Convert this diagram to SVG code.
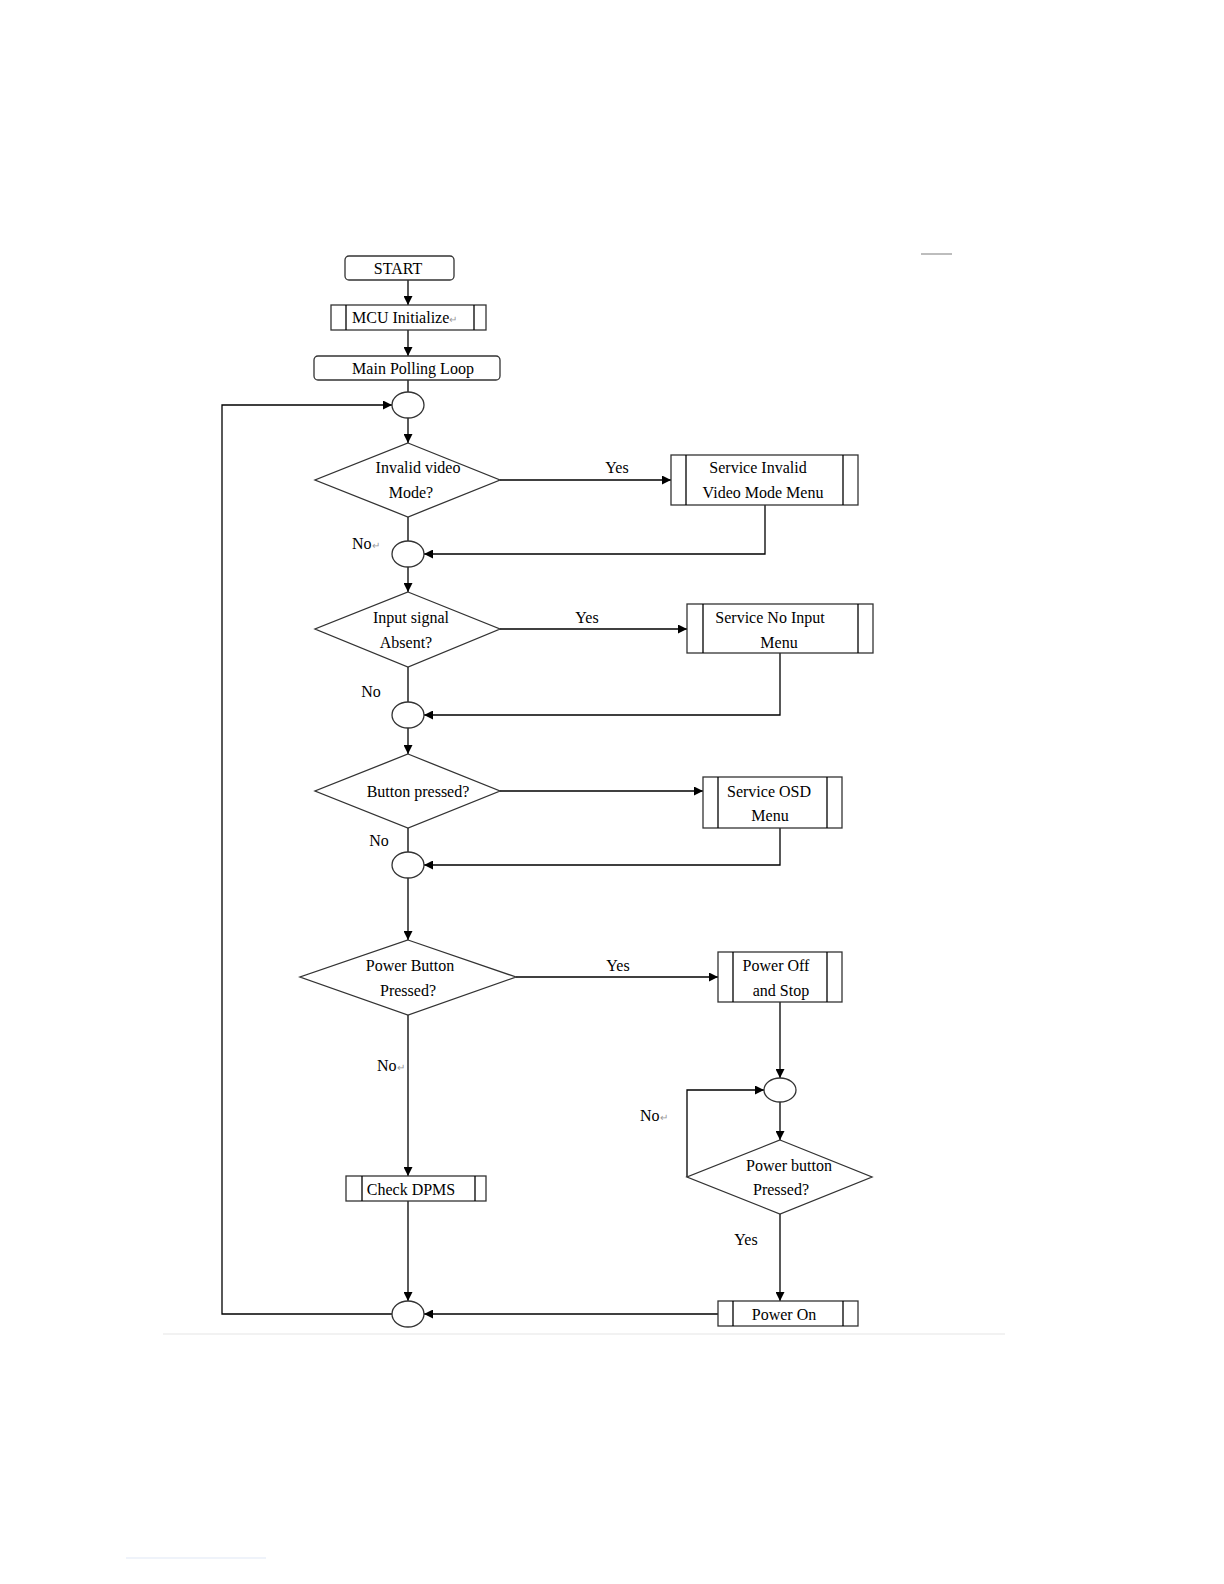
<svg xmlns="http://www.w3.org/2000/svg" width="1224" height="1584" viewBox="0 0 1224 1584">
<defs>
<marker id="ah" viewBox="0 0 10 10" refX="10" refY="5" markerWidth="9" markerHeight="9" markerUnits="userSpaceOnUse" orient="auto">
<path d="M0,0 L10,5 L0,10 z" fill="#000"/>
</marker>
<style>
.s{fill:#fff;stroke:#333;stroke-width:1.3}
.l{fill:none;stroke:#000;stroke-width:1.3}
.c{fill:none;stroke:#000;stroke-width:1.3;marker-end:url(#ah)}
text{font-family:"Liberation Serif","Times New Roman",serif;font-size:16px;fill:#000}
.m{text-anchor:middle}
.g{fill:#999}
</style>
</defs>
<rect width="1224" height="1584" fill="#fff"/>
<line x1="921" y1="254" x2="952" y2="254" stroke="#999" stroke-width="1.3"/>
<line x1="163" y1="1334" x2="1005" y2="1334" stroke="#eee" stroke-width="1.5"/>
<line x1="126" y1="1558" x2="266" y2="1558" stroke="#dfe8f5" stroke-width="1.2"/>

<g id="connectors">
<line class="c" x1="408" y1="280" x2="408" y2="305"/>
<line class="c" x1="408" y1="330" x2="408" y2="356"/>
<line class="l" x1="408" y1="380" x2="408" y2="392"/>
<line class="c" x1="408" y1="418" x2="408" y2="443"/>
<line class="c" x1="500" y1="480" x2="671" y2="480"/>
<polyline class="c" points="765,505 765,554 424,554"/>
<line class="l" x1="408" y1="517" x2="408" y2="541"/>
<line class="c" x1="408" y1="567" x2="408" y2="592"/>
<line class="c" x1="500" y1="629" x2="687" y2="629"/>
<polyline class="c" points="780,653 780,715 424,715"/>
<line class="l" x1="408" y1="667" x2="408" y2="702"/>
<line class="c" x1="408" y1="728" x2="408" y2="754"/>
<line class="c" x1="500" y1="791" x2="703" y2="791"/>
<polyline class="c" points="780,828 780,865 424,865"/>
<line class="l" x1="408" y1="828" x2="408" y2="852"/>
<line class="c" x1="408" y1="878" x2="408" y2="940"/>
<line class="c" x1="516" y1="977" x2="718" y2="977"/>
<line class="c" x1="408" y1="1015" x2="408" y2="1176"/>
<line class="c" x1="408" y1="1201" x2="408" y2="1301"/>
<line class="c" x1="780" y1="1002" x2="780" y2="1078"/>
<line class="c" x1="780" y1="1102" x2="780" y2="1140"/>
<polyline class="c" points="687,1177 687,1090 764,1090"/>
<line class="c" x1="780" y1="1214" x2="780" y2="1301"/>
<line class="c" x1="718" y1="1314" x2="424" y2="1314"/>
<polyline class="c" points="392,1314 222,1314 222,405 392,405"/>
</g>

<g id="start"><rect class="s" x="345" y="256" width="109" height="24" rx="4"/><text class="m" x="398" y="274">START</text></g>
<g id="mcu"><rect class="s" x="331" y="305" width="155" height="25"/><line class="l" x1="346" y1="305" x2="346" y2="330"/><line class="l" x1="474" y1="305" x2="474" y2="330"/><text x="352" y="323">MCU Initialize<tspan class="g" font-size="10">↵</tspan></text></g>
<g id="mainloop"><rect class="s" x="314" y="356" width="186" height="24" rx="4"/><text class="m" x="413" y="374">Main Polling Loop</text></g>
<g id="j1"><ellipse class="s" cx="408" cy="405" rx="16" ry="13"/></g>
<g id="d1"><polygon class="s" points="408,443 500,480 408,517 315,480"/><text class="m" x="418" y="473">Invalid video</text><text class="m" x="411" y="498">Mode?</text></g>
<g id="b1"><rect class="s" x="671" y="455" width="187" height="50"/><line class="l" x1="686" y1="455" x2="686" y2="505"/><line class="l" x1="843" y1="455" x2="843" y2="505"/><text class="m" x="758" y="473">Service Invalid</text><text class="m" x="763" y="498">Video Mode Menu</text></g>
<g id="j2"><ellipse class="s" cx="408" cy="554" rx="16" ry="13"/></g>
<g id="d2"><polygon class="s" points="408,592 500,629 408,667 315,629"/><text class="m" x="411" y="623">Input signal</text><text class="m" x="406" y="648">Absent?</text></g>
<g id="b2"><rect class="s" x="687" y="604" width="186" height="49"/><line class="l" x1="703" y1="604" x2="703" y2="653"/><line class="l" x1="858" y1="604" x2="858" y2="653"/><text class="m" x="770" y="623">Service No Input</text><text class="m" x="779" y="648">Menu</text></g>
<g id="j3"><ellipse class="s" cx="408" cy="715" rx="16" ry="13"/></g>
<g id="d3"><polygon class="s" points="408,754 500,791 408,828 315,791"/><text class="m" x="418" y="797">Button pressed?</text></g>
<g id="b3"><rect class="s" x="703" y="777" width="139" height="51"/><line class="l" x1="718" y1="777" x2="718" y2="828"/><line class="l" x1="827" y1="777" x2="827" y2="828"/><text class="m" x="769" y="797">Service OSD</text><text class="m" x="770" y="821">Menu</text></g>
<g id="j4"><ellipse class="s" cx="408" cy="865" rx="16" ry="13"/></g>
<g id="d4"><polygon class="s" points="408,940 516,977 408,1015 300,977"/><text class="m" x="410" y="971">Power Button</text><text class="m" x="408" y="996">Pressed?</text></g>
<g id="b4"><rect class="s" x="718" y="952" width="124" height="50"/><line class="l" x1="733" y1="952" x2="733" y2="1002"/><line class="l" x1="827" y1="952" x2="827" y2="1002"/><text class="m" x="776" y="971">Power Off</text><text class="m" x="781" y="996">and Stop</text></g>
<g id="j5"><ellipse class="s" cx="780" cy="1090" rx="16" ry="12"/></g>
<g id="d5"><polygon class="s" points="780,1140 872,1177 780,1214 687,1177"/><text class="m" x="789" y="1171">Power button</text><text class="m" x="781" y="1195">Pressed?</text></g>
<g id="dpms"><rect class="s" x="346" y="1176" width="140" height="25"/><line class="l" x1="362" y1="1176" x2="362" y2="1201"/><line class="l" x1="475" y1="1176" x2="475" y2="1201"/><text class="m" x="411" y="1195">Check DPMS</text></g>
<g id="poweron"><rect class="s" x="718" y="1301" width="140" height="25"/><line class="l" x1="733" y1="1301" x2="733" y2="1326"/><line class="l" x1="843" y1="1301" x2="843" y2="1326"/><text class="m" x="784" y="1320">Power On</text></g>
<g id="j6"><ellipse class="s" cx="408" cy="1314" rx="16" ry="13"/></g>

<g id="labels">
<text class="m" x="617" y="473">Yes</text>
<text x="352" y="549">No<tspan class="g" font-size="10">↵</tspan></text>
<text class="m" x="587" y="623">Yes</text>
<text class="m" x="371" y="697">No</text>
<text class="m" x="379" y="846">No</text>
<text class="m" x="618" y="971">Yes</text>
<text x="377" y="1071">No<tspan class="g" font-size="10">↵</tspan></text>
<text x="640" y="1121">No<tspan class="g" font-size="10">↵</tspan></text>
<text class="m" x="746" y="1245">Yes</text>
</g>
</svg>
